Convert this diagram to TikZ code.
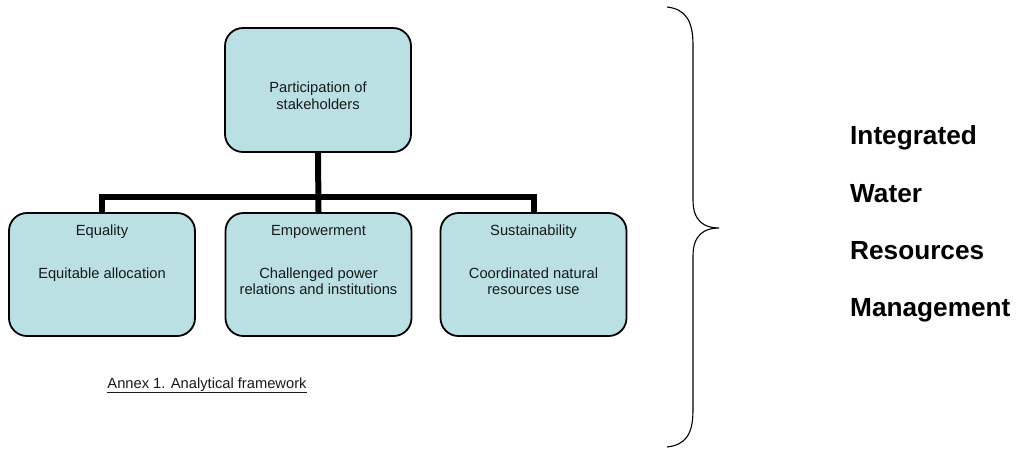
\documentclass[tikz,border=0pt]{standalone}
\usepackage{fontspec}
\setmainfont{Liberation Sans}
\definecolor{boxfill}{RGB}{186,224,228}
\begin{document}
\begin{tikzpicture}[x=1pt,y=-1pt,
  cbox/.style={draw=black,line width=1.8pt,fill=boxfill,rounded corners=18pt,
    minimum width=186pt,minimum height=123pt,inner sep=0pt},
  small/.style={font=\fontsize{14.7}{16.5}\selectfont,anchor=base,inner sep=0pt,text=black!90},
  big/.style={font=\fontsize{26.2}{30}\selectfont\bfseries,anchor=base west,inner sep=0pt},
  conn/.style={line width=6pt,line join=miter,line cap=butt},
  brace/.style={line width=1.1pt}]
\useasboundingbox (0,0) rectangle (1016,448);

% boxes
\node[cbox,minimum height=124pt] (top) at (318,90) {};
\node[cbox] (eq)  at (102,274.5) {};
\node[cbox] (emp) at (318.5,274.5) {};
\node[cbox] (sus) at (533.5,274.5) {};

% connectors
\coordinate (j) at (318,197);
\draw[conn] (top.south) -- (emp.north);
\draw[conn] (eq.north) -- (eq.north |- j) -- (sus.north |- j) -- (sus.north);

% texts
\node[small] (t1) at (318,92) {Participation of};
\node[small] (t2) at (318,109) {stakeholders};
\node[small] (e1) at (102,235) {Equality};
\node[small] (e2) at (102,278) {Equitable allocation};
\node[small] (m1) at (318.5,235) {Empowerment};
\node[small] (m2) at (318.5,278) {Challenged power};
\node[small] (m3) at (318.5,294) {relations and institutions};
\node[small] (s1) at (533.5,235) {Sustainability};
\node[small] (s2) at (533.5,278) {Coordinated natural};
\node[small] (s3) at (533.5,294) {resources use};
\node[small] (annex) at (207,388) {\underline{Annex 1. Analytical framework}};

% brace
\draw[brace] (667,7) .. controls (685,9) and (693,20) .. (693,45)
  -- (693,200) .. controls (693,221) and (704,228) .. (719,228)
  .. controls (704,228) and (693,235) .. (693,256)
  -- (693,410) .. controls (693,435) and (685,445) .. (667,447);

% right labels
\node[big] (w1) at (850,144) {Integrated};
\node[big] (w2) at (850,202) {Water};
\node[big] (w3) at (850,259) {Resources};
\node[big] (w4) at (850,316) {Management};
\end{tikzpicture}
\end{document}
